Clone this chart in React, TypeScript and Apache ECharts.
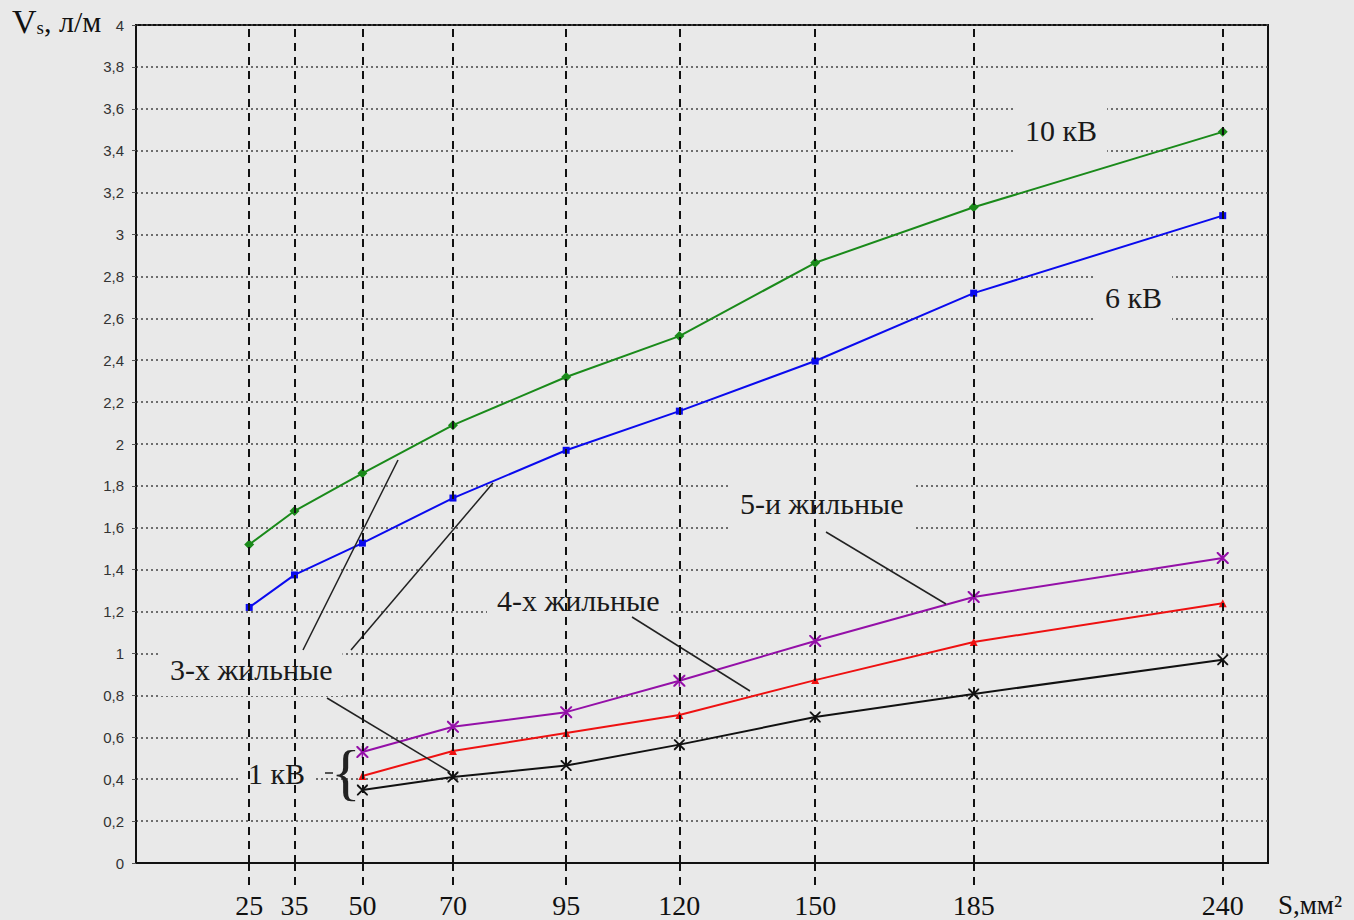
import React, { useEffect, useRef } from "react";
import * as echarts from "echarts";

const xValues = [25, 35, 50, 70, 95, 120, 150, 185, 240];
const x1kV = [50, 70, 95, 120, 150, 185, 240];

const v10kV = [1.52, 1.68, 1.86, 2.09, 2.32, 2.515, 2.865, 3.13, 3.49];
const v6kV = [1.22, 1.375, 1.527, 1.742, 1.97, 2.157, 2.396, 2.72, 3.09];
const v5core = [0.53, 0.65, 0.72, 0.87, 1.06, 1.27, 1.456];
const v4core = [0.415, 0.535, 0.62, 0.706, 0.873, 1.055, 1.24];
const v3core = [0.348, 0.41, 0.465, 0.565, 0.697, 0.807, 0.97];

const BG = "#e9e9e9";
const SERIF = "Liberation Serif";

const ASTER =
  "path://M0,0 L1.2,0 L10,8.8 L10,10 L8.8,10 L0,1.2 Z M8.8,0 L10,0 L10,1.2 L1.2,10 L0,10 L0,8.8 Z M4.4,0 L5.6,0 L5.6,10 L4.4,10 Z";
const CROSS =
  "path://M0,0 L1.2,0 L10,8.8 L10,10 L8.8,10 L0,1.2 Z M8.8,0 L10,0 L10,1.2 L1.2,10 L0,10 L0,8.8 Z";

function pairs(xs: number[], ys: number[]) {
  return xs.map((x, i) => [x, ys[i]]);
}

function label(text: string, left: number, cy: number, pad: number[] = [10, 10]) {
  return {
    type: "text",
    left,
    top: cy - 15 - pad[0],
    z: 2,
    style: {
      text,
      fontFamily: SERIF,
      fontSize: 30,
      fill: "#1a1a1a",
      backgroundColor: BG,
      padding: pad,
    },
  };
}

function leader(x1: number, y1: number, x2: number, y2: number) {
  return {
    type: "line",
    z: 4,
    shape: { x1, y1, x2, y2 },
    style: { stroke: "#222", lineWidth: 1.5 },
  };
}

export default function App() {
  const ref = useRef<HTMLDivElement>(null);
  useEffect(() => {
    if (!ref.current) return;
    const chart = echarts.init(ref.current, undefined, { renderer: "svg" });
    const lineSeries = (name: string, data: number[][], color: string, symbol: string, size: number) => ({
      name,
      type: "line",
      data,
      z: 3,
      symbol,
      symbolSize: size,
      lineStyle: { color, width: 2 },
      itemStyle: { color },
    });
    chart.setOption({
      animation: false,
      backgroundColor: BG,
      grid: {
        left: 136,
        top: 25,
        right: 86,
        bottom: 57,
        outerBoundsMode: "none",
        containLabel: false,
        show: true,
        borderColor: "#111",
        borderWidth: 2,
        backgroundColor: "transparent",
      },
      xAxis: {
        type: "value",
        min: 0,
        max: 250,
        axisLine: { show: true, lineStyle: { color: "#111", width: 2 } },
        axisTick: {
          show: true,
          customValues: xValues,
          length: 28,
          lineStyle: { color: "#111", width: 2, type: [8, 6] },
        },
        axisLabel: {
          customValues: xValues,
          margin: 28,
          fontSize: 28,
          fontFamily: SERIF,
          color: "#111",
        },
        splitLine: { show: false },
      },
      yAxis: {
        type: "value",
        min: 0,
        max: 4,
        interval: 0.2,
        axisLine: { show: true, lineStyle: { color: "#111", width: 2 } },
        axisTick: { show: true, length: 4, lineStyle: { color: "#555" } },
        axisLabel: {
          margin: 12,
          fontSize: 15,
          fontFamily: "Liberation Sans",
          color: "#333",
          formatter: (v: number) => String(Math.round(v * 10) / 10).replace(".", ","),
        },
        splitLine: {
          show: true,
          lineStyle: { color: "#444", width: 1.5, type: [2, 3] },
        },
      },
      series: [
        {
          name: "verticals",
          type: "line",
          data: [],
          z: 1,
          silent: true,
          markLine: {
            silent: true,
            symbol: ["none", "none"],
            label: { show: false },
            lineStyle: { color: "#111", width: 2, type: [8, 6] },
            data: xValues.map((v) => ({ xAxis: v })),
          },
        },
        lineSeries("10 кВ", pairs(xValues, v10kV), "#1a8a1a", "diamond", 10),
        lineSeries("6 кВ", pairs(xValues, v6kV), "#0a0aee", "rect", 7),
        lineSeries("5-и жильные", pairs(x1kV, v5core), "#9410a8", ASTER, 12),
        lineSeries("4-х жильные", pairs(x1kV, v4core), "#ee1111", "triangle", 8),
        lineSeries("3-х жильные", pairs(x1kV, v3core), "#111111", CROSS, 11),
      ],
      graphic: [
        {
          type: "text",
          left: 12,
          top: 4,
          z: 2,
          style: {
            rich: {
              v: { fontFamily: SERIF, fontSize: 34, fill: "#111" },
              s: { fontFamily: SERIF, fontSize: 19, fill: "#111", padding: [12, 0, 0, 0] },
              t: { fontFamily: SERIF, fontSize: 30, fill: "#111" },
            },
            text: "{v|V}{s|s}{t|, л/м}",
          },
        },
        label("10 кВ", 1015, 130, [8, 10]),
        label("6 кВ", 1095, 297, [8, 10]),
        label("5-и жильные", 730, 503, [14, 10]),
        label("4-х жильные", 487, 600, [9, 10]),
        label("3-х жильные", 160, 669, [12, 10]),
        label("1 кВ", 240, 773, [8, 8]),
        {
          type: "text",
          left: 1278,
          top: 891,
          style: { text: "S,мм²", fontFamily: SERIF, fontSize: 27, fill: "#111" },
        },
        {
          type: "text",
          left: 331,
          top: 741,
          z: 2,
          style: { text: "{", fontFamily: SERIF, fontSize: 62, fill: "#222" },
        },
        leader(325, 773, 333, 773),
        leader(303, 650, 398, 460),
        leader(351, 650, 493, 483),
        leader(327, 698, 450, 772),
        leader(632, 617, 750, 691),
        leader(826, 532, 946, 604),
      ],
    });
    return () => chart.dispose();
  }, []);
  return (
    <div
      ref={ref}
      style={{ position: "fixed", left: 0, top: 0, width: 1354, height: 920 }}
    />
  );
}
